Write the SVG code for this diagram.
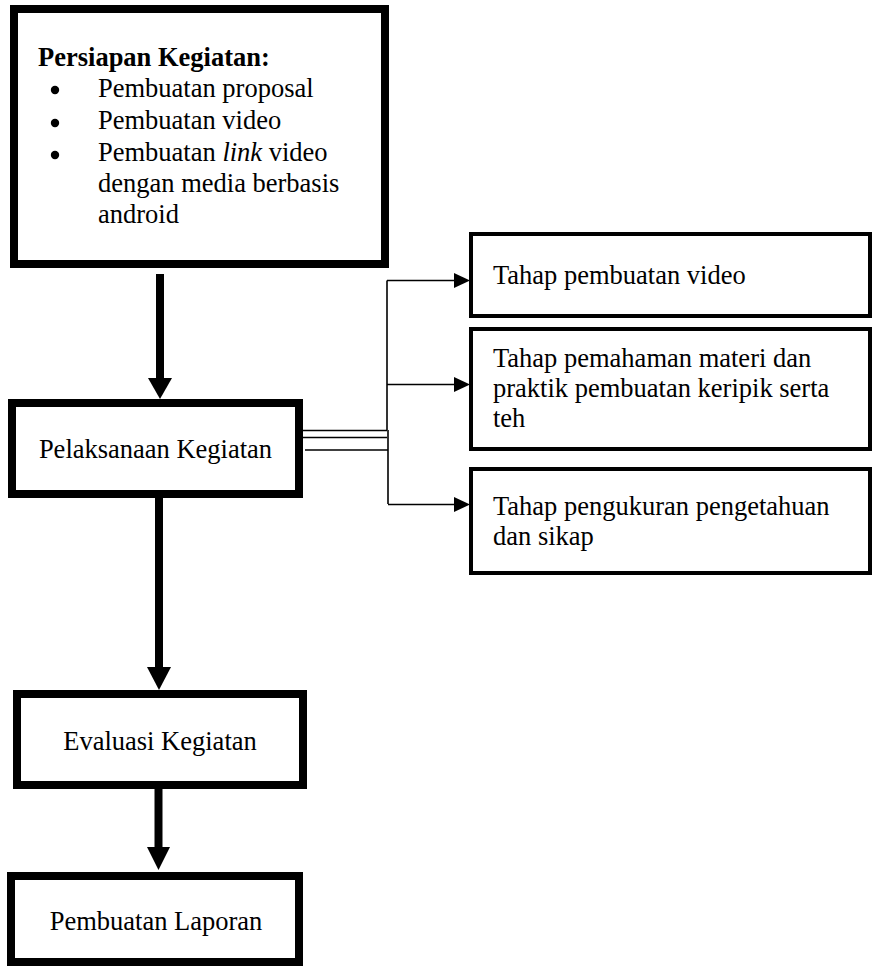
<svg xmlns="http://www.w3.org/2000/svg" width="872" height="966" viewBox="0 0 872 966">
<style>
.thick{fill:#fff;stroke:#000;stroke-width:8}
.thin{fill:#fff;stroke:#000;stroke-width:4}
.t{font-family:'Liberation Serif','Times New Roman',Tinos,'DejaVu Serif',serif;font-size:26.5px;fill:#000}
.b{font-weight:bold}
.c{text-anchor:middle}
.ln{fill:none;stroke:#000;stroke-width:1.6}
.shaft{fill:none;stroke:#000;stroke-width:8}
</style>
<rect width="872" height="966" fill="#fff"/>
<g id="connectors">
  <line class="shaft" x1="160" y1="274" x2="160" y2="380"/>
  <polygon points="148,378 172,378 160,399"/>
  <line class="shaft" x1="159" y1="498" x2="159" y2="669"/>
  <polygon points="147,667 171,667 159,690"/>
  <line class="shaft" x1="158.5" y1="789" x2="158.5" y2="849"/>
  <polygon points="147,847 170,847 158.5,870"/>
  <line class="ln" x1="303" y1="430.5" x2="387" y2="430.5"/>
  <line class="ln" x1="303" y1="437.5" x2="387" y2="437.5"/>
  <line class="ln" x1="305" y1="450" x2="388" y2="450"/>
  <line class="ln" x1="387" y1="280.5" x2="387" y2="430"/>
  <line class="ln" x1="388" y1="430" x2="388" y2="504"/>
  <line class="ln" x1="387" y1="280.5" x2="456" y2="280.5"/>
  <polygon points="454,273 470,280.5 454,288"/>
  <line class="ln" x1="387" y1="384.5" x2="456" y2="384.5"/>
  <polygon points="454,377 470,384.5 454,392"/>
  <line class="ln" x1="388" y1="504.5" x2="456" y2="504.5"/>
  <polygon points="454,497 470,504.5 454,512"/>
</g>
<g id="persiapan">
  <rect class="thick" x="14" y="9" width="371" height="255"/>
  <text class="t b" x="38" y="66" font-family="Liberation Serif, serif">Persiapan Kegiatan:</text>
  <circle cx="55" cy="90" r="4.2"/>
  <circle cx="55" cy="123" r="4.2"/>
  <circle cx="55" cy="155" r="4.2"/>
  <text class="t" x="98" y="97" font-family="Liberation Serif, serif">Pembuatan proposal</text>
  <text class="t" x="98" y="129" font-family="Liberation Serif, serif">Pembuatan video</text>
  <text class="t" x="98" y="161" font-family="Liberation Serif, serif">Pembuatan <tspan font-style="italic">link</tspan> video</text>
  <text class="t" x="98" y="192" font-family="Liberation Serif, serif">dengan media berbasis</text>
  <text class="t" x="98" y="223" font-family="Liberation Serif, serif">android</text>
</g>
<g id="pelaksanaan">
  <rect class="thick" x="12" y="403" width="287" height="91"/>
  <text class="t c" x="155.5" y="458" font-family="Liberation Serif, serif">Pelaksanaan Kegiatan</text>
</g>
<g id="evaluasi">
  <rect class="thick" x="17" y="694" width="286" height="91"/>
  <text class="t c" x="160" y="750" font-family="Liberation Serif, serif">Evaluasi Kegiatan</text>
</g>
<g id="laporan">
  <rect class="thick" x="11" y="876" width="288" height="86"/>
  <text class="t c" x="156" y="930" font-family="Liberation Serif, serif">Pembuatan Laporan</text>
</g>
<g id="tahap-video">
  <rect class="thin" x="471" y="234" width="399" height="82"/>
  <text class="t" x="493" y="284" font-family="Liberation Serif, serif">Tahap pembuatan video</text>
</g>
<g id="tahap-pemahaman">
  <rect class="thin" x="471" y="329" width="399" height="120"/>
  <text class="t" x="493" y="367" font-family="Liberation Serif, serif">Tahap pemahaman materi dan</text>
  <text class="t" x="493" y="397" font-family="Liberation Serif, serif">praktik pembuatan keripik serta</text>
  <text class="t" x="493" y="427" font-family="Liberation Serif, serif">teh</text>
</g>
<g id="tahap-pengukuran">
  <rect class="thin" x="471" y="469" width="399" height="104"/>
  <text class="t" x="493" y="515" font-family="Liberation Serif, serif">Tahap pengukuran pengetahuan</text>
  <text class="t" x="493" y="545" font-family="Liberation Serif, serif">dan sikap</text>
</g>
</svg>
